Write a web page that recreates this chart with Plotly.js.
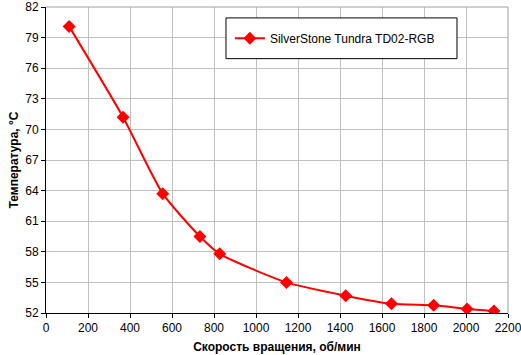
<!DOCTYPE html>
<html><head><meta charset="utf-8">
<script src="https://cdn.plot.ly/plotly-3.0.1.min.js"></script>
<style>body{margin:0;background:#fff}#c{width:521px;height:355px}</style>
</head><body><div id="c"></div>
<script>
var rpm = [110, 367, 556, 733, 827, 1145, 1427, 1645, 1846, 2005, 2133];
var temp = [80.1, 71.2, 63.7, 59.5, 57.8, 55.0, 53.7, 52.9, 52.75, 52.4, 52.2];
var seriesName = "SilverStone Tundra TD02-RGB";
var xTitle = "Скорость вращения, об/мин";
var yTitle = "Температура, °C";

var trace = {
  x: rpm, y: temp, name: seriesName, type: 'scatter', mode: 'lines+markers',
  line: {color: '#ff0000', width: 2, shape: 'spline', smoothing: 0.6},
  marker: {symbol: 'diamond', size: 10, color: '#ff0000'}
};
var layout = {
  width: 521, height: 355,
  margin: {l: 46, r: 13, t: 7, b: 42},
  paper_bgcolor: '#fff', plot_bgcolor: '#fff',
  font: {family: 'Liberation Sans, Arial, sans-serif', size: 12, color: '#000'},
  showlegend: true,
  legend: {x: 0.398, y: 0.8977, xanchor: 'left', yanchor: 'middle', borderwidth: 0,
           bgcolor: 'rgba(0,0,0,0)', font: {size: 12}},
  xaxis: {range: [0, 2200], tick0: 0, dtick: 200, showgrid: true, gridcolor: '#c0c0c0', gridwidth: 1,
          showline: true, linecolor: '#000', linewidth: 1, ticks: 'outside', ticklen: 4, tickcolor: '#000',
          zeroline: false, fixedrange: true, ticklabeloverflow: 'allow',
          title: {text: xTitle, font: {size: 12, weight: 'bold'}, standoff: 8}},
  yaxis: {range: [52, 82], tick0: 52, dtick: 3, showgrid: true, gridcolor: '#c0c0c0', gridwidth: 1,
          showline: true, linecolor: '#000', linewidth: 1, ticks: 'outside', ticklen: 4, tickcolor: '#000',
          zeroline: false, fixedrange: true, ticklabeloverflow: 'allow',
          title: {text: yTitle, font: {size: 12, weight: 'bold'}, standoff: 4}},
  shapes: [
    {type: 'line', xref: 'paper', yref: 'paper', x0: 0, x1: 1, y0: 1, y1: 1, line: {color: '#a0a0a0', width: 1}},
    {type: 'line', xref: 'paper', yref: 'paper', x0: 1, x1: 1, y0: 0, y1: 1, line: {color: '#a0a0a0', width: 1}},
    {type: 'rect', xref: 'paper', yref: 'paper', x0: 0.3896, x1: 0.8896, y0: 0.8312, y1: 0.9643,
     line: {color: '#000', width: 1}, fillcolor: '#fff', layer: 'above'}
  ]
};
Plotly.newPlot('c', [trace], layout, {displayModeBar: false, staticPlot: true});
</script></body></html>
